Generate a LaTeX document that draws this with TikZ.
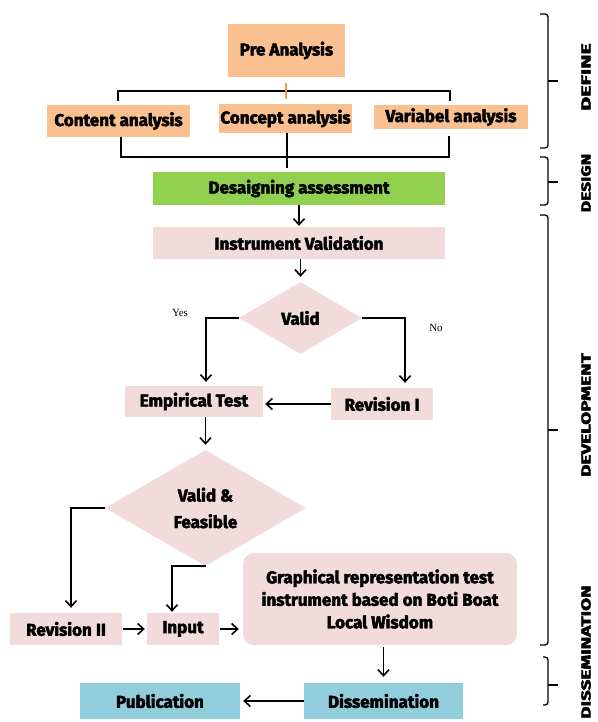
\documentclass[tikz,border=0pt]{standalone}
\usepackage{fontspec}
\usepackage{graphicx}
\usetikzlibrary{arrows.meta,shapes.geometric}
\newfontfamily\dfont{Fira Sans}[BoldFeatures={FakeBold=2.8}]
\newfontfamily\yfont{Liberation Serif}
\definecolor{cpeach}{HTML}{FAC08F}
\definecolor{cgreen}{HTML}{92D050}
\definecolor{cpink}{HTML}{F2DCDB}
\definecolor{cblue}{HTML}{92CDDC}
\definecolor{corange}{HTML}{F79646}
\tikzset{
  base/.style={inner sep=0pt, align=center, font=\dfont\bfseries\fontsize{17}{22.5}\selectfont},
  peachbox/.style={base, fill=cpeach},
  greenbox/.style={base, fill=cgreen},
  pinkbox/.style={base, fill=cpink},
  bluebox/.style={base, fill=cblue},
  pinkdiam/.style={base, diamond, fill=cpink},
  conn/.style={line width=1.6pt, black},
  arr/.style={conn, -{Straight Barb[length=6pt,width=11pt]}},
  brc/.style={line width=1.3pt, black, rounded corners=3pt},
  phase/.style={rotate=90, inner sep=0pt, font=\dfont\bfseries\fontsize{13}{13}\selectfont},
  yn/.style={inner sep=0pt, font=\yfont\fontsize{11}{11}\selectfont}
}
\begin{document}
\begin{tikzpicture}[x=1pt,y=-1pt]
\fill[white] (0,0) rectangle (597,722);
\useasboundingbox (0,0) rectangle (597,722);

% DEFINE
\node[peachbox, minimum width=117pt, minimum height=53pt] (pre) at (286.5,50.5) {Pre Analysis};
\node[peachbox, minimum width=143pt, minimum height=32pt] (content) at (118.5,121) {Content analysis};
\node[peachbox, minimum width=133pt, minimum height=29pt] (concept) at (285.5,118.5) {Concept analysis};
\node[peachbox, minimum width=154pt, minimum height=24pt] (variabel) at (451,117) {Variabel analysis};

\coordinate (tbl) at (118,101);
\coordinate (tbr) at (450,101);
\coordinate (tbm) at (286,91);
\draw[conn] (tbl) |- (tbm) -| (tbr);
\draw[line width=1.6pt, corange] (286,83) -- (286,99);

\coordinate (bbl) at (121,137);
\coordinate (bbr) at (449,136);
\coordinate (bbm) at (287,157);
\draw[conn] (bbl) |- (bbm) -| (bbr);
\draw[conn] (287,133) -- (287,168);

% DESIGN
\node[greenbox, minimum width=292pt, minimum height=33pt] (design) at (299,188.5) {Desaigning assessment};
\node[pinkbox, minimum width=292pt, minimum height=32pt] (validation) at (299,243) {Instrument Validation};
\draw[arr, shorten >=1pt] (design.south) -- (validation.north);

% Valid
\node[pinkdiam, minimum width=123pt, minimum height=72pt] (valid) at (300.5,318) {Valid};
\draw[arr, shorten >=5pt] (validation.south -| valid.north) -- (valid.north);

\node[pinkbox, minimum width=138pt, minimum height=31pt] (emp) at (194,401.5) {Empirical Test};
\node[pinkbox, minimum width=102pt, minimum height=32pt] (rev1) at (382,404) {Revision I};

\draw[arr, shorten >=4pt] (valid.west) -| ([xshift=12pt]emp.north);
\draw[arr, shorten >=5pt] (valid.east) -| ([xshift=23pt]rev1.north);
\draw[arr, shorten >=2pt] (rev1.west) -- (rev1.west -| emp.east);
\node[yn] (yes) at (180,313) {Yes};
\node[yn] (no) at (436,328) {No};

% Valid & Feasible
\node[pinkdiam, minimum width=201pt, minimum height=116pt] (vf) at (205.5,508) {Valid \&\\[4pt]Feasible};
\draw[arr, shorten >=5pt] (vf.north |- emp.south) -- (vf.north);

\node[pinkbox, minimum width=112pt, minimum height=32pt] (rev2) at (66,629) {Revision II};
\node[pinkbox, minimum width=72pt, minimum height=32pt] (input) at (183,629) {Input};
\node[pinkbox, rounded corners=11pt, minimum width=274pt, minimum height=92pt] (graph) at (380,599)
  {Graphical representation test\\instrument based on Boti Boat\\Local Wisdom};

\draw[arr, shorten >=5pt] (vf.west) -| ([xshift=5pt]rev2.north);
\draw[arr, shorten >=1pt] (vf.south) -| ([xshift=-11pt]input.north);
\draw[arr, shorten <=1pt, shorten >=2pt] (rev2.east) -- (input.west);
\draw[arr, shorten <=1pt, shorten >=4pt] (input.east) -- (input.east -| graph.west);

% Dissemination
\node[bluebox, minimum width=159pt, minimum height=36pt] (diss) at (383.5,701) {Dissemination};
\node[bluebox, minimum width=160pt, minimum height=36pt] (pub) at (160,701) {Publication};
\draw[arr, shorten <=2pt, shorten >=6pt] (graph.south -| diss.north) -- (diss.north);
\draw[arr, shorten >=3pt] (diss.west) -- (pub.east);

% Phase braces
\draw[brc] (540,14) -| (548,148) -- (540,148);
\draw[brc] (548,81) -- (558,81);
\draw[brc] (540,157) -| (548,205) -- (540,205);
\draw[brc] (548,182) -- (558,182);
\draw[brc] (540,215) -| (548,645) -- (540,645);
\draw[brc] (548,430) -- (558,430);
\draw[brc] (543,657) -| (548,705) -- (543,705);
\draw[brc] (548,685) -- (558,685);

\node[phase] (pdefine) at (586,77) {\scalebox{1.65}[1]{DEFINE}};
\node[phase] (pdesign) at (586,183) {\scalebox{1.35}[1]{DESIGN}};
\node[phase] (pdevel) at (586,415) {\scalebox{1.46}[1]{DEVELOPMENT}};
\node[phase] (pdiss) at (586,652) {\scalebox{1.45}[1]{DISSEMINATION}};
\end{tikzpicture}
\end{document}
